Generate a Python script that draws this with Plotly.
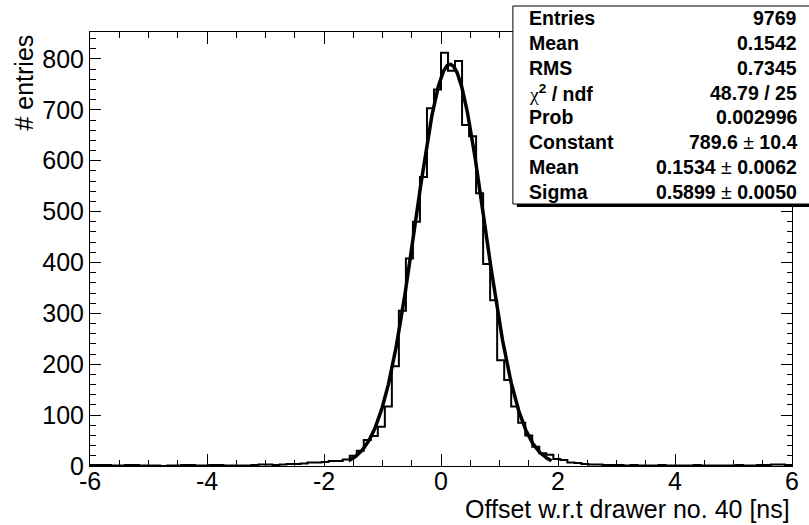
import numpy as np
import plotly.graph_objects as go

# ---------------- data ----------------
x_low, x_high, n_bins = -6.0, 6.0, 100
counts = [
    2, 2, 2, 1, 1, 2, 2, 1, 1, 1, 0, 1, 1, 2, 2, 1, 1, 2, 2, 1,
    1, 1, 1, 2, 3, 3, 2, 3, 4, 4, 5, 7, 7, 8, 10, 10, 13, 20, 30, 51,
    59, 77, 117, 196, 305, 408, 480, 568, 703, 740, 812, 777, 796, 670, 648, 536, 397, 326, 208, 169,
    117, 85, 60, 38, 25, 22, 14, 12, 7, 6, 4, 3, 3, 2, 2, 2, 1, 2, 1, 1,
    1, 2, 1, 1, 1, 1, 2, 1, 1, 1, 1, 1, 2, 1, 1, 2, 2, 3, 3, 2,
]
fit_constant, fit_mean, fit_sigma = 789.6, 0.1534, 0.5899
fit_range = [-1.58, 1.89]

x_ticks = [-6, -4, -2, 0, 2, 4, 6]
y_ticks = [0, 100, 200, 300, 400, 500, 600, 700, 800]
y_max = 853

stat_labels = ["Entries", "Mean", "RMS", "χ<sup>2</sup> / ndf", "Prob", "Constant", "Mean", "Sigma"]
stat_values = ["9769", "0.1542", "0.7345", "48.79 / 25", "0.002996",
               "789.6 ± 10.4", "0.1534 ± 0.0062", "0.5899 ± 0.0050"]

x_title = "Offset w.r.t drawer no. 40 [ns]"
y_title = "# entries"

# ---------------- geometry (pixels) ----------------
FW, FH = 809, 525
L, R, T, B = 89.5, 792.5, 32.0, 466.0
PW, PH = R - L, B - T
FONT = "Liberation Sans, Arial, sans-serif"


def px(xp):
    return (xp - L) / PW


def py(yp):
    return (B - yp) / PH


edges = np.linspace(x_low, x_high, n_bins + 1)
step_x = list(edges)
step_y = list(counts) + [counts[-1]]

xf = np.linspace(fit_range[0], fit_range[1], 400)
yf = fit_constant * np.exp(-0.5 * ((xf - fit_mean) / fit_sigma) ** 2)

fig = go.Figure()
fig.add_trace(go.Scatter(x=step_x, y=step_y, mode="lines", line_shape="hv",
                         line=dict(color="black", width=2), hoverinfo="skip"))
fig.add_trace(go.Scatter(x=xf, y=yf, mode="lines",
                         line=dict(color="black", width=3.5), hoverinfo="skip"))

axis_common = dict(showgrid=False, zeroline=False, showline=True, mirror="allticks",
                   linecolor="black", linewidth=1, ticks="inside", tickcolor="black",
                   tickfont=dict(family=FONT, size=25, color="black"))

fig.update_xaxes(range=[x_low, x_high], tickvals=x_ticks, ticktext=[str(v) for v in x_ticks],
                 ticklen=12, tickwidth=1, ticklabelstandoff=-7,
                 minor=dict(dtick=0.5, tick0=0, ticklen=6, ticks="inside", tickcolor="black"),
                 **axis_common)
fig.update_yaxes(range=[0, y_max], tickvals=y_ticks, ticktext=[str(v) for v in y_ticks],
                 ticklen=11, tickwidth=1,
                 minor=dict(dtick=20, tick0=0, ticklen=5.5, ticks="inside", tickcolor="black"),
                 **axis_common)

# stats box
bx0, bx1, by0, by1 = 513, 840, 6, 204
fig.add_shape(type="rect", xref="paper", yref="paper",
              x0=px(bx0 + 4), x1=px(bx1 + 4), y0=py(by1 + 3), y1=py(by0 + 3),
              fillcolor="black", line=dict(width=0), layer="above")
fig.add_shape(type="rect", xref="paper", yref="paper",
              x0=px(bx0), x1=px(bx1), y0=py(by1), y1=py(by0),
              fillcolor="white", line=dict(color="black", width=1), layer="above")

row_h = (by1 - by0) / len(stat_labels)
for i, (lab, val) in enumerate(zip(stat_labels, stat_values)):
    yc = by0 + row_h * (i + 0.5)
    if lab.startswith("χ"):
        lab_txt = ("<span style='font-family:Liberation Serif'>χ</span>"
                   "<b><sup>2</sup> / ndf</b>")
    else:
        lab_txt = "<b>" + lab + "</b>"
    if "±" in val:
        a, b = val.split("±")
        val_txt = "<b>" + a.strip() + "</b> ± <b>" + b.strip() + "</b>"
    else:
        val_txt = "<b>" + val + "</b>"
    fig.add_annotation(x=px(527), y=py(yc), xref="paper", yref="paper",
                       text=lab_txt, showarrow=False, xanchor="left", yanchor="middle",
                       font=dict(family=FONT, size=19.5, color="black"))
    fig.add_annotation(x=px(799.5), y=py(yc), xref="paper", yref="paper",
                       text=val_txt, showarrow=False, xanchor="right", yanchor="middle",
                       font=dict(family=FONT, size=19.5, color="black"))

# axis titles
fig.add_annotation(x=px(793), y=py(509), xref="paper", yref="paper", text=x_title,
                   showarrow=False, xanchor="right", yanchor="middle",
                   font=dict(family=FONT, size=25, color="black"))
fig.add_annotation(x=px(23), y=py(33), xref="paper", yref="paper", text=y_title,
                   textangle=-90, showarrow=False, xanchor="center", yanchor="top",
                   font=dict(family=FONT, size=25, color="black"))

fig.update_layout(width=FW, height=FH, showlegend=False,
                  paper_bgcolor="white", plot_bgcolor="white",
                  margin=dict(l=L, r=FW - R, t=T, b=FH - B, autoexpand=False))

fig.write_html("out.html")
